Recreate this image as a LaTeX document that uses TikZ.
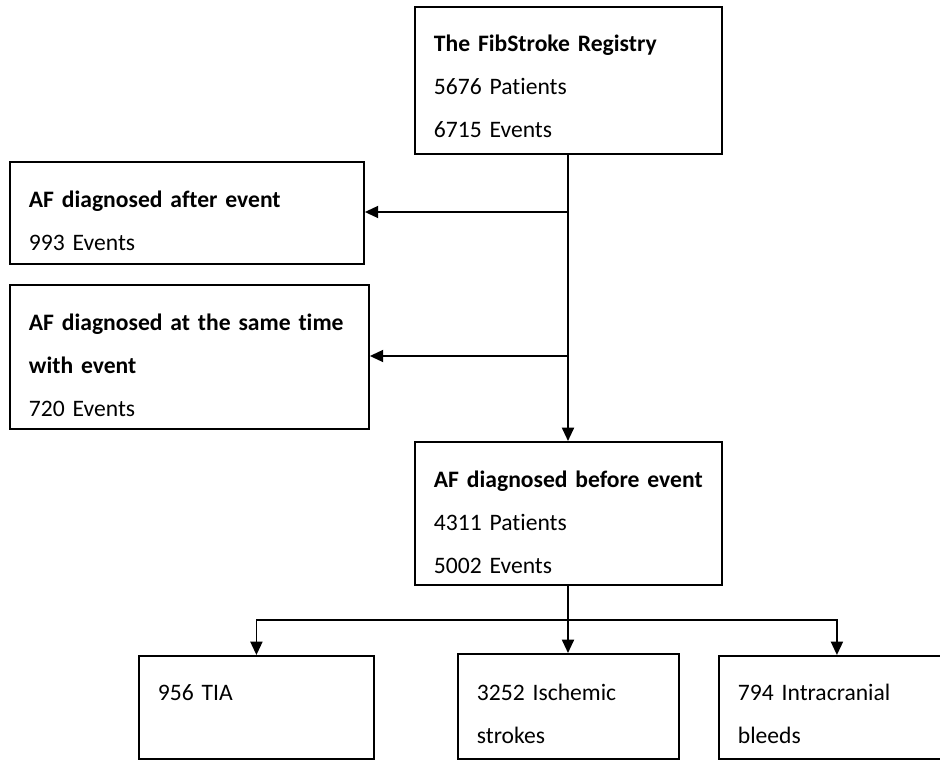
\documentclass[tikz,border=0pt]{standalone}
\usepackage{fontspec}
\setmainfont{Carlito}[Ligatures=NoCommon]
\usetikzlibrary{arrows.meta}

\begin{document}
\begin{tikzpicture}[
    x=0.75pt, y=-0.75pt,
    bx/.style={draw, line width=1.4pt, anchor=north west, inner sep=0pt, align=left,
               font=\fontsize{17.7pt}{32.25pt}\selectfont,
               execute at begin node={\leftskip=14.25pt}},
    arr/.style={-{Triangle[length=10pt,width=9pt]}, line width=1.4pt},
    lnk/.style={line width=1.4pt}
]
\clip (0,0) rectangle (940,760);
\node[bx, text width=230.25pt, text height=33.4pt, text depth=76.9pt] (reg) at (414,6)
    {\textbf{The FibStroke Registry}\\5676 Patients\\6715 Events};
\node[bx, text width=265.5pt, text height=34.5pt, text depth=42pt] (after) at (9,161)
    {\textbf{AF diagnosed after event}\\993 Events};
\node[bx, text width=269.25pt, text height=34.5pt, text depth=73.5pt] (same) at (9,284)
    {\textbf{AF diagnosed at the same time}\\\textbf{with event}\\720 Events};
\node[bx, text width=230.25pt, text height=34.5pt, text depth=72.75pt] (before) at (414,441)
    {\textbf{AF diagnosed before event}\\4311 Patients\\5002 Events};
\node[bx, text width=176.25pt, text height=33.75pt, text depth=43.5pt] (tia) at (138,655)
    {956 TIA};
\node[bx, text width=165.75pt, text height=35.25pt, text depth=43.5pt] (isch) at (457,653)
    {3252 Ischemic\\strokes};
\node[bx, text width=177pt, text height=33.75pt, text depth=43.5pt] (ich) at (718,655)
    {794 Intracranial\\bleeds};

\coordinate (trunk) at (568,0);
\coordinate (j1) at (568,212);
\coordinate (j2) at (568,356);
\coordinate (hub) at (568,620);

\draw[arr] (reg.south -| trunk) -- (before.north -| trunk);
\draw[arr] (j1) -- (j1 -| after.east);
\draw[arr] (j2) -- (j2 -| same.east);
\draw[lnk] (before.south -| trunk) -- (hub);
\draw[arr] (hub) -| (tia.north);
\draw[arr] (hub) -- (hub |- isch.north);
\draw[arr] (hub) -| (ich.north);
\end{tikzpicture}
\end{document}
